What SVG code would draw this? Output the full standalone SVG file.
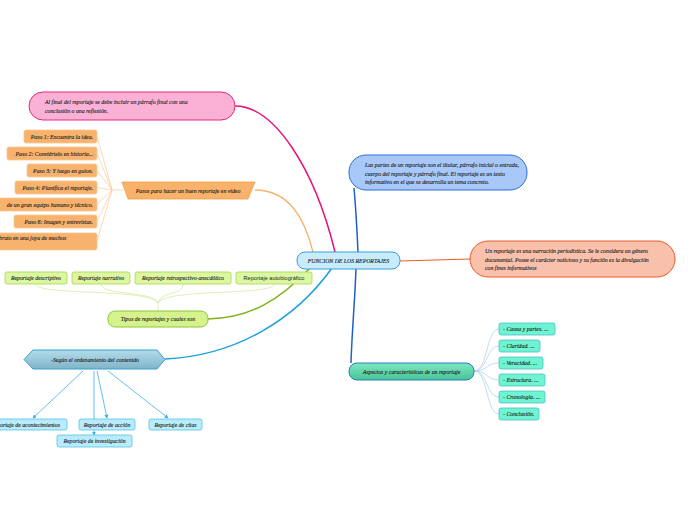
<svg xmlns="http://www.w3.org/2000/svg" width="696" height="520" viewBox="0 0 696 520">
<defs>
<style>
.t{font-family:"Liberation Serif",serif;font-style:italic;fill:#1e1e1e;font-size:5.8px;stroke:#1e1e1e;stroke-width:0.12}
.ts{font-family:"Liberation Sans",sans-serif;fill:#1e1e1e;font-size:5.6px}
.paso{fill:#f7b36e;stroke:#f8c896;stroke-width:0.8}
.verde{fill:#dcf7a2;stroke:#a9d64e;stroke-width:0.8}
.celeste{fill:#b9ecfb;stroke:#56c2ea;stroke-width:0.8}
.menta{fill:#6ef4d0;stroke:#4bbfcf;stroke-width:0.8}
.thin{fill:none;stroke-width:0.7}
</style>
<linearGradient id="gHex" x1="0" y1="0" x2="0" y2="1">
<stop offset="0" stop-color="#b4dceb"/><stop offset="1" stop-color="#7fb4c9"/>
</linearGradient>
<linearGradient id="gAsp" x1="0" y1="0" x2="0" y2="1">
<stop offset="0" stop-color="#7ee8c2"/><stop offset="1" stop-color="#46c497"/>
</linearGradient>
<marker id="arr" viewBox="0 0 6 6" refX="5" refY="3" markerWidth="5" markerHeight="5" orient="auto">
<path d="M0,0 L6,3 L0,6 z" fill="#3ab0e6"/>
</marker>
</defs>
<rect width="696" height="520" fill="#ffffff"/>

<g id="connectors">
<path d="M235,106 C275,106 315,170 335,252" fill="none" stroke="#e8137a" stroke-width="1.5"/>
<path d="M255,190 C290,190 305,220 313,252" fill="none" stroke="#f7b26a" stroke-width="1.3"/>
<path d="M354,188 C356,210 357,230 358,252" fill="none" stroke="#1e5fc8" stroke-width="1.5"/>
<path d="M356,268 C355,300 352,330 351,363" fill="none" stroke="#1e5fc8" stroke-width="1.5"/>
<path d="M400,261 L470,259" fill="none" stroke="#f05a28" stroke-width="1.2"/>
<path d="M208,319 C250,318 280,300 310,268" fill="none" stroke="#7fb21a" stroke-width="1.5"/>
<path d="M332,268 C295,320 235,356 165,359" fill="none" stroke="#1aa0e0" stroke-width="1.5"/>
<g class="thin" stroke="#f9c99a">
<path d="M97,136.5 L112,190"/>
<path d="M97,153.5 L112,190"/>
<path d="M97,170.5 L112,190"/>
<path d="M97,187.5 L112,190"/>
<path d="M97,204.5 L112,190"/>
<path d="M97,221.5 L112,190"/>
<path d="M97,241 L112,190"/>
<path d="M112,190 L123,190"/>
</g>
<g class="thin" stroke="#cfe99a">
<path d="M36,284 C36,296 150,288 158,303"/>
<path d="M101,284 C101,296 152,290 158,303"/>
<path d="M183,284 C183,296 162,290 158,303"/>
<path d="M274,284 C274,296 166,288 158,303"/>
<path d="M158,303 L158,311"/>
</g>
<g fill="none" stroke="#3ab0e6" stroke-width="0.8">
<path d="M83,371 L33,418" marker-end="url(#arr)"/>
<path d="M94,371 L94,435" marker-end="url(#arr)"/>
<path d="M97,371 L107,418" marker-end="url(#arr)"/>
<path d="M108,371 L168,418" marker-end="url(#arr)"/>
</g>
<g class="thin" stroke="#a8cfe8">
<path d="M474,371 C488,371 486,329 499,329"/>
<path d="M474,371 C488,371 486,346 499,346"/>
<path d="M474,371 C488,371 486,363 499,363"/>
<path d="M474,371 C488,371 486,380 499,380"/>
<path d="M474,371 C488,371 486,397 499,397"/>
<path d="M474,371 C488,371 486,414 499,414"/>
</g>
</g>

<g id="center">
<rect x="297" y="252" width="103" height="17" rx="8" fill="#c8ecfb" stroke="#3aa0d8" stroke-width="1"/>
<text class="t" x="348.5" y="262.5" text-anchor="middle" font-size="5.3">FUNCION DE LOS REPORTAJES</text>
</g>

<g id="conclusion">
<rect x="29" y="92" width="206" height="28" rx="14" fill="#fbb1d5" stroke="#e8287c" stroke-width="1"/>
<text class="t" x="45" y="104">Al final del reportaje se debe incluir un párrafo final con una</text>
<text class="t" x="45" y="112.5">conclusión o una reflexión.</text>
</g>

<g id="partes">
<rect x="349" y="155" width="178" height="35" rx="17" fill="#a7c8f8" stroke="#2d6fd6" stroke-width="1"/>
<text class="t" x="365" y="167">Las partes de un reportaje son el titular, párrafo inicial o entrada,</text>
<text class="t" x="365" y="175.5">cuerpo del reportaje y párrafo final. El reportaje es un texto</text>
<text class="t" x="365" y="184">informativo en el que se desarrolla un tema concreto.</text>
</g>

<g id="definicion">
<rect x="470" y="241" width="205" height="36" rx="18" fill="#f9c0ac" stroke="#f05a28" stroke-width="1"/>
<text class="t" x="485" y="253">Un reportaje es una narración periodística. Se le considera un género</text>
<text class="t" x="485" y="261.5">documental. Posee el carácter noticioso y su función es la divulgación</text>
<text class="t" x="485" y="270">con fines informativos</text>
</g>

<g id="pasos">
<path d="M122,182 L255,182 L248,199 L128,199 Z" fill="#f8b26a" stroke="#f5a048" stroke-width="0.8"/>
<text class="t" x="188" y="192.5" text-anchor="middle" font-size="6">Pasos para hacer un buen reportaje en video</text>
</g>
<g id="paso1"><rect class="paso" x="24" y="130" width="73" height="13" rx="2"/><text class="t" x="93" y="138.5" text-anchor="end" font-size="5.5">Paso 1: Encuentra la idea.</text></g>
<g id="paso2"><rect class="paso" x="7" y="147" width="90" height="13" rx="2"/><text class="t" x="93" y="155.5" text-anchor="end" font-size="5.5">Paso 2: Conviértelo en historia...</text></g>
<g id="paso3"><rect class="paso" x="27" y="164" width="70" height="13" rx="2"/><text class="t" x="93" y="172.5" text-anchor="end" font-size="5.5">Paso 3: Y luego en guion.</text></g>
<g id="paso4"><rect class="paso" x="15" y="181" width="82" height="13" rx="2"/><text class="t" x="93" y="189.5" text-anchor="end" font-size="5.5">Paso 4: Planifica el reportaje.</text></g>
<g id="paso5"><rect class="paso" x="-4" y="198" width="101" height="13" rx="2"/><text class="t" x="93" y="206.5" text-anchor="end" font-size="5.5">de un gran equipo humano y técnico.</text></g>
<g id="paso6"><rect class="paso" x="14" y="215" width="83" height="13" rx="2"/><text class="t" x="93" y="223.5" text-anchor="end" font-size="5.5">Paso 6: Imagen y entrevistas.</text></g>
<g id="paso7"><rect class="paso" x="-4" y="233" width="101" height="17" rx="2"/><text class="t" x="-1" y="240" font-size="5.5">bruto en una joya de muchos</text></g>

<g id="tipos">
<rect x="108" y="311" width="100" height="16" rx="7" fill="#d5f28c" stroke="#8cc63f" stroke-width="1"/>
<text class="t" x="158" y="321" text-anchor="middle">Tipos de reportajes y cuales son</text>
</g>
<g id="tipo1"><rect class="verde" x="5" y="272" width="62" height="12" rx="2"/><text class="t" x="36" y="280" text-anchor="middle">Reportaje descriptivo</text></g>
<g id="tipo2"><rect class="verde" x="72" y="272" width="58" height="12" rx="2"/><text class="t" x="101" y="280" text-anchor="middle">Reportaje narrativo</text></g>
<g id="tipo3"><rect class="verde" x="135" y="272" width="96" height="12" rx="2"/><text class="t" x="183" y="280" text-anchor="middle">Reportaje retrospectivo-anecdótico</text></g>
<g id="tipo4"><rect class="verde" x="236" y="272" width="76" height="12" rx="2"/><text class="ts" x="274" y="280" text-anchor="middle">Reportaje autobiográfico</text></g>

<g id="segun">
<path d="M24,359.5 L33,350 L157,350 L165,359.5 L157,369 L33,369 Z" fill="url(#gHex)" stroke="#3ba0cc" stroke-width="1"/>
<text class="t" x="95" y="362" text-anchor="middle" font-size="7.8">-Según el ordenamiento del contenido</text>
</g>
<g id="acontecimientos"><rect class="celeste" x="-4" y="419" width="71" height="11" rx="2"/><text class="t" x="0" y="426.5" font-size="5.5">ortaje de acontecimientos</text></g>
<g id="accion"><rect class="celeste" x="79" y="419" width="56" height="11" rx="2"/><text class="t" x="107" y="426.5" text-anchor="middle" font-size="5.5">Reportaje de acción</text></g>
<g id="citas"><rect class="celeste" x="149" y="419" width="53" height="11" rx="2"/><text class="t" x="175.5" y="426.5" text-anchor="middle" font-size="5.5">Reportaje de citas</text></g>
<g id="investigacion"><rect class="celeste" x="57" y="435" width="75" height="12" rx="2"/><text class="t" x="94.5" y="443" text-anchor="middle" font-size="5.5">Reportaje de investigación</text></g>

<g id="aspectos">
<rect x="349" y="363" width="125" height="17" rx="8" fill="url(#gAsp)" stroke="#2a7cc0" stroke-width="1"/>
<text class="t" x="411.5" y="373.5" text-anchor="middle">Aspectos y características de un reportaje</text>
</g>
<g id="asp1"><rect class="menta" x="499" y="323" width="56" height="12" rx="2"/><text class="t" x="503" y="331">- Causa y partes. ...</text></g>
<g id="asp2"><rect class="menta" x="499" y="340" width="41" height="12" rx="2"/><text class="t" x="503" y="348">- Claridad. ...</text></g>
<g id="asp3"><rect class="menta" x="499" y="357" width="44" height="12" rx="2"/><text class="t" x="503" y="365">- Veracidad. ...</text></g>
<g id="asp4"><rect class="menta" x="499" y="374" width="46" height="12" rx="2"/><text class="t" x="503" y="382">- Estructura. ...</text></g>
<g id="asp5"><rect class="menta" x="499" y="391" width="46" height="12" rx="2"/><text class="t" x="503" y="399">- Cronología. ...</text></g>
<g id="asp6"><rect class="menta" x="499" y="408" width="40" height="12" rx="2"/><text class="t" x="503" y="416">- Conclusión.</text></g>
</svg>
